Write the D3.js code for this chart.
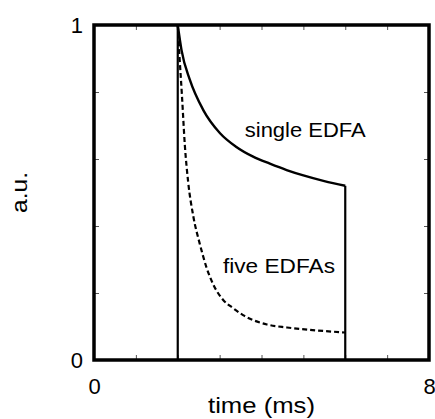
<!DOCTYPE html>
<html>
<head>
<meta charset="utf-8">
<script src="https://cdn.jsdelivr.net/npm/d3@7"></script>
<style>
  body { margin: 0; background: #fff; }
  svg { display: block; font-family: "Liberation Sans", Arial, sans-serif; }
</style>
</head>
<body>
<svg id="chart"></svg>
<script>
// values
const singleTime = [2, 2.09, 2.29, 2.61, 3.01, 3.4, 3.8, 4.2, 4.6, 5.0, 5.5, 6.0]
const singleValue = [1, 0.925, 0.836, 0.746, 0.677, 0.636, 0.607, 0.586, 0.567, 0.551, 0.534, 0.52]
const fiveTime = [2, 2.04, 2.1, 2.17, 2.25, 2.37, 2.53, 2.69, 2.85, 3.08, 3.32, 3.56, 4.13, 4.61, 5.16, 6.0]
const fiveValue = [1, 0.91, 0.79, 0.64, 0.53, 0.43, 0.345, 0.275, 0.225, 0.18, 0.155, 0.134, 0.106, 0.097, 0.09, 0.082]
const pulseEdges = [2, 6]
const xTicks = [0, 1, 2, 3, 4, 5, 6, 7, 8]
const yTicks = [0, 0.2, 0.4, 0.6, 0.8, 1]
const xLabels = { 0: "0", 8: "8" }
const yLabels = { 0: "0", 1: "1" }

let width = 435
let height = 419
let margin = { top: 25, right: 6, bottom: 59, left: 94 }

let svg = d3.select("#chart")
    .attr("width", width)
    .attr("height", height)

let x = d3.scaleLinear().domain([0, 8]).range([margin.left, width - margin.right])
let y = d3.scaleLinear().domain([0, 1]).range([height - margin.bottom, margin.top])

let tickColor = "#555"

function styleAxis(g)
{
    g.select(".domain").remove()
    g.selectAll(".tick line").attr("stroke", tickColor).attr("stroke-width", 1)
    g.selectAll(".tick text").attr("fill", "#000").style("font-size", "22px")
}

// bottom and top
svg.append("g")
    .attr("transform", `translate(0,${y(0)})`)
    .call(d3.axisBottom(x).tickValues(xTicks).tickSizeInner(-5).tickSizeOuter(0).tickPadding(18)
        .tickFormat(d => xLabels[d] || ""))
    .call(styleAxis)

svg.append("g")
    .attr("transform", `translate(0,${y(1)})`)
    .call(d3.axisTop(x).tickValues(xTicks).tickSizeInner(-5).tickSizeOuter(0).tickFormat(""))
    .call(styleAxis)

// left and right
svg.append("g")
    .attr("transform", `translate(${x(0)},0)`)
    .call(d3.axisLeft(y).tickValues(yTicks).tickSizeInner(-5).tickSizeOuter(0).tickPadding(11)
        .tickFormat(d => yLabels[d] || ""))
    .call(styleAxis)

svg.append("g")
    .attr("transform", `translate(${x(8)},0)`)
    .call(d3.axisRight(y).tickValues(yTicks).tickSizeInner(-5).tickSizeOuter(0).tickFormat(""))
    .call(styleAxis)

let line = d3.line()
    .x(d => x(d[0]))
    .y(d => y(d[1]))
    .curve(d3.curveMonotoneX)

let singleData = d3.zip(singleTime, singleValue)
let fiveData = d3.zip(fiveTime, fiveValue)

// pulse edges
svg.append("line")
    .attr("x1", x(pulseEdges[0])).attr("x2", x(pulseEdges[0]))
    .attr("y1", y(0)).attr("y2", y(1))
    .attr("stroke", "#000").attr("stroke-width", 2.2)

svg.append("line")
    .attr("x1", x(pulseEdges[1])).attr("x2", x(pulseEdges[1]))
    .attr("y1", y(0)).attr("y2", y(singleValue[singleValue.length - 1]))
    .attr("stroke", "#000").attr("stroke-width", 2.2)

svg.append("path")
    .datum(singleData)
    .attr("d", line)
    .attr("fill", "none")
    .attr("stroke", "#000")
    .attr("stroke-width", 2.4)

svg.append("path")
    .datum(fiveData)
    .attr("d", line)
    .attr("fill", "none")
    .attr("stroke", "#000")
    .attr("stroke-width", 2.2)
    .attr("stroke-dasharray", "5,3")

// frame
svg.append("rect")
    .attr("x", x(0)).attr("y", y(1))
    .attr("width", x(8) - x(0)).attr("height", y(0) - y(1))
    .attr("fill", "none")
    .attr("stroke", "#000")
    .attr("stroke-width", 3.5)

// annotations
svg.append("text")
    .attr("x", x(3.6)).attr("y", y(0.666))
    .attr("textLength", 121).attr("lengthAdjust", "spacingAndGlyphs")
    .style("font-size", "20px")
    .text("single EDFA")

svg.append("text")
    .attr("x", x(3.08)).attr("y", y(0.26))
    .attr("textLength", 112).attr("lengthAdjust", "spacingAndGlyphs")
    .style("font-size", "20px")
    .text("five EDFAs")

// axis titles
svg.append("text")
    .attr("x", (x(0) + x(8)) / 2).attr("y", 413)
    .attr("text-anchor", "middle")
    .attr("textLength", 107).attr("lengthAdjust", "spacingAndGlyphs")
    .style("font-size", "22px")
    .text("time (ms)")

svg.append("text")
    .attr("transform", `translate(27,${(y(0) + y(1)) / 2}) rotate(-90)`)
    .attr("text-anchor", "middle")
    .attr("textLength", 41).attr("lengthAdjust", "spacingAndGlyphs")
    .style("font-size", "22px")
    .text("a.u.")
</script>
</body>
</html>
